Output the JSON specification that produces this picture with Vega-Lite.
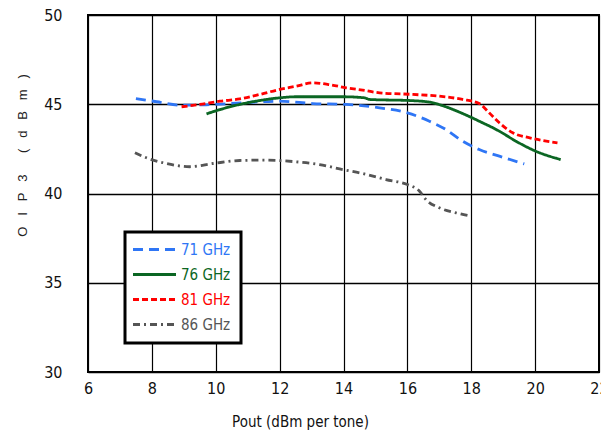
{
  "$schema": "https://vega.github.io/schema/vega-lite/v6.json",
  "width": 511,
  "height": 357,
  "autosize": {"type": "none"},
  "padding": {"left": 88, "top": 15, "right": 2, "bottom": 65},
  "background": "white",
  "config": {
    "view": {"stroke": "black", "strokeWidth": 2},
    "font": "DejaVu Sans Condensed, Liberation Sans, sans-serif"
  },
  "data": {"values": [
    {"x": 7.5, "y": 45.32, "s": "71 GHz"},
    {"x": 8.15, "y": 45.14, "s": "71 GHz"},
    {"x": 8.88, "y": 44.95, "s": "71 GHz"},
    {"x": 9.7, "y": 44.97, "s": "71 GHz"},
    {"x": 10.44, "y": 45.04, "s": "71 GHz"},
    {"x": 12.0, "y": 45.17, "s": "71 GHz"},
    {"x": 13.04, "y": 45.04, "s": "71 GHz"},
    {"x": 14.08, "y": 44.99, "s": "71 GHz"},
    {"x": 15.13, "y": 44.8, "s": "71 GHz"},
    {"x": 16.0, "y": 44.52, "s": "71 GHz"},
    {"x": 16.69, "y": 44.05, "s": "71 GHz"},
    {"x": 17.2, "y": 43.59, "s": "71 GHz"},
    {"x": 17.73, "y": 42.93, "s": "71 GHz"},
    {"x": 18.25, "y": 42.46, "s": "71 GHz"},
    {"x": 18.88, "y": 42.09, "s": "71 GHz"},
    {"x": 19.66, "y": 41.66, "s": "71 GHz"},
    {"x": 9.71, "y": 44.46, "s": "76 GHz"},
    {"x": 10.13, "y": 44.7, "s": "76 GHz"},
    {"x": 10.75, "y": 44.99, "s": "76 GHz"},
    {"x": 11.38, "y": 45.21, "s": "76 GHz"},
    {"x": 12.0, "y": 45.36, "s": "76 GHz"},
    {"x": 12.52, "y": 45.42, "s": "76 GHz"},
    {"x": 13.98, "y": 45.42, "s": "76 GHz"},
    {"x": 14.66, "y": 45.36, "s": "76 GHz"},
    {"x": 14.81, "y": 45.27, "s": "76 GHz"},
    {"x": 16.17, "y": 45.2, "s": "76 GHz"},
    {"x": 16.69, "y": 45.12, "s": "76 GHz"},
    {"x": 17.2, "y": 44.86, "s": "76 GHz"},
    {"x": 17.73, "y": 44.48, "s": "76 GHz"},
    {"x": 18.25, "y": 44.05, "s": "76 GHz"},
    {"x": 18.88, "y": 43.49, "s": "76 GHz"},
    {"x": 19.4, "y": 42.93, "s": "76 GHz"},
    {"x": 20.02, "y": 42.37, "s": "76 GHz"},
    {"x": 20.8, "y": 41.9, "s": "76 GHz"},
    {"x": 8.93, "y": 44.86, "s": "81 GHz"},
    {"x": 9.5, "y": 44.99, "s": "81 GHz"},
    {"x": 10.13, "y": 45.17, "s": "81 GHz"},
    {"x": 10.75, "y": 45.3, "s": "81 GHz"},
    {"x": 11.38, "y": 45.55, "s": "81 GHz"},
    {"x": 12.0, "y": 45.83, "s": "81 GHz"},
    {"x": 12.52, "y": 46.01, "s": "81 GHz"},
    {"x": 13.04, "y": 46.2, "s": "81 GHz"},
    {"x": 13.56, "y": 46.1, "s": "81 GHz"},
    {"x": 14.08, "y": 45.92, "s": "81 GHz"},
    {"x": 14.6, "y": 45.79, "s": "81 GHz"},
    {"x": 15.13, "y": 45.64, "s": "81 GHz"},
    {"x": 16.17, "y": 45.55, "s": "81 GHz"},
    {"x": 17.0, "y": 45.45, "s": "81 GHz"},
    {"x": 17.73, "y": 45.27, "s": "81 GHz"},
    {"x": 18.25, "y": 45.04, "s": "81 GHz"},
    {"x": 18.56, "y": 44.52, "s": "81 GHz"},
    {"x": 18.88, "y": 43.96, "s": "81 GHz"},
    {"x": 19.3, "y": 43.4, "s": "81 GHz"},
    {"x": 19.83, "y": 43.12, "s": "81 GHz"},
    {"x": 20.7, "y": 42.84, "s": "81 GHz"},
    {"x": 7.47, "y": 42.28, "s": "86 GHz"},
    {"x": 7.83, "y": 42.0, "s": "86 GHz"},
    {"x": 8.46, "y": 41.68, "s": "86 GHz"},
    {"x": 9.19, "y": 41.5, "s": "86 GHz"},
    {"x": 9.92, "y": 41.68, "s": "86 GHz"},
    {"x": 10.75, "y": 41.85, "s": "86 GHz"},
    {"x": 11.48, "y": 41.87, "s": "86 GHz"},
    {"x": 12.42, "y": 41.79, "s": "86 GHz"},
    {"x": 13.25, "y": 41.62, "s": "86 GHz"},
    {"x": 13.98, "y": 41.34, "s": "86 GHz"},
    {"x": 14.6, "y": 41.12, "s": "86 GHz"},
    {"x": 15.33, "y": 40.78, "s": "86 GHz"},
    {"x": 16.0, "y": 40.5, "s": "86 GHz"},
    {"x": 16.38, "y": 40.13, "s": "86 GHz"},
    {"x": 16.58, "y": 39.66, "s": "86 GHz"},
    {"x": 17.0, "y": 39.2, "s": "86 GHz"},
    {"x": 17.52, "y": 38.92, "s": "86 GHz"},
    {"x": 17.99, "y": 38.73, "s": "86 GHz"}
  ]},
  "mark": {"type": "line", "strokeWidth": 2.8, "interpolate": "monotone"},
  "encoding": {
    "x": {
      "field": "x", "type": "quantitative",
      "scale": {"domain": [6, 22], "nice": false, "zero": false},
      "axis": {
        "values": [6, 8, 10, 12, 14, 16, 18, 20, 22],
        "title": "Pout (dBm per tone)",
        "titleFontSize": 15,
        "titleFontWeight": "normal",
        "titleColor": "#111",
        "titleX": 212,
        "titleY": 42,
        "titleBaseline": "top",
        "labelFontSize": 16,
        "labelColor": "#111",
        "labelPadding": 8,
        "labelFlush": false,
        "ticks": false,
        "domain": false,
        "grid": true,
        "gridColor": "black",
        "gridWidth": 1.2,
        "gridOpacity": 1
      }
    },
    "y": {
      "field": "y", "type": "quantitative",
      "scale": {"domain": [30, 50], "nice": false, "zero": false},
      "axis": {
        "values": [30, 35, 40, 45, 50],
        "title": "O\u00a0\u00a0\u00a0I\u00a0\u00a0\u00a0P\u00a0\u00a0\u00a03\u00a0\u00a0\u00a0\u00a0\u00a0\u00a0(\u00a0\u00a0\u00a0d\u00a0\u00a0\u00a0B\u00a0\u00a0\u00a0m\u00a0\u00a0\u00a0)",
        "titleFont": "Liberation Sans",
        "titleFontSize": 13,
        "titleFontWeight": "normal",
        "titleColor": "#222",
        "titleAngle": 270,
        "titleAlign": "center",
        "titleBaseline": "middle",
        "titleX": -66,
        "titleY": 140,
        "labelFontSize": 16,
        "labelColor": "#111",
        "labelPadding": 26,
        "labelBaseline": "middle",
        "labelFlush": false,
        "ticks": false,
        "domain": false,
        "grid": true,
        "gridColor": "black",
        "gridWidth": 1.4,
        "gridOpacity": 1
      }
    },
    "color": {
      "field": "s", "type": "nominal",
      "scale": {
        "domain": ["71 GHz", "76 GHz", "81 GHz", "86 GHz"],
        "range": ["#2f76f5", "#0b6623", "#ff0000", "#555555"]
      },
      "legend": {
        "title": null,
        "orient": "none",
        "legendX": 37,
        "legendY": 217,
        "strokeColor": "black",
        "fillColor": "white",
        "padding": 10,
        "symbolType": "M-4.3,0H4.3",
        "symbolSize": 100,
        "symbolStrokeWidth": 3,
        "symbolOffset": 12,
        "labelFontSize": 15,
        "labelOffset": 19,
        "rowPadding": 9,
        "encode": {
          "legend": {"update": {"strokeWidth": {"value": 3}}},
          "labels": {"update": {"fill": {"scale": "color", "field": "value"}}}
        }
      }
    },
    "strokeDash": {
      "field": "s", "type": "nominal",
      "scale": {
        "domain": ["71 GHz", "76 GHz", "81 GHz", "86 GHz"],
        "range": [[10, 6], [1, 0], [6, 3], [7, 4, 2, 4]]
      },
      "legend": null
    }
  }
}
